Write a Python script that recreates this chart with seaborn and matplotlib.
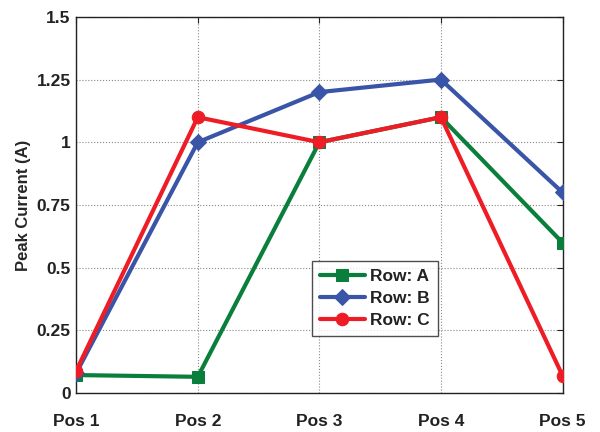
import matplotlib
matplotlib.use("Agg")
import matplotlib.pyplot as plt
import seaborn as sns
import pandas as pd

positions = ["Pos 1", "Pos 2", "Pos 3", "Pos 4", "Pos 5"]
row_a = [0.072, 0.065, 1.0, 1.1, 0.6]
row_b = [0.08, 1.0, 1.2, 1.25, 0.8]
row_c = [0.089, 1.1, 1.0, 1.1, 0.07]
series_names = ["Row: A", "Row: B", "Row: C"]
y_ticks = [0, 0.25, 0.5, 0.75, 1, 1.25, 1.5]
y_tick_labels = ["0", "0.25", "0.5", "0.75", "1", "1.25", "1.5"]

sns.set_style("white")
plt.rcParams["font.family"] = ["Liberation Sans", "DejaVu Sans"]
plt.rcParams["font.weight"] = "bold"

idx = list(range(1, len(positions) + 1))
df = pd.DataFrame({
    "pos": idx * 3,
    "val": row_a + row_b + row_c,
    "row": [series_names[0]] * 5 + [series_names[1]] * 5 + [series_names[2]] * 5,
})

colors = {"Row: A": "#0a7f3c", "Row: B": "#3a55a8", "Row: C": "#ee1c24"}
markers = {"Row: A": "s", "Row: B": "D", "Row: C": "o"}
msizes = {"Row: A": 8.5, "Row: B": 8, "Row: C": 9}

fig = plt.figure(figsize=(6.0, 4.32), dpi=100)
ax = fig.add_axes([0.127, 0.09, 0.8105, 0.871])

for name in series_names:
    sub = df[df["row"] == name]
    sns.lineplot(data=sub, x="pos", y="val", ax=ax, color=colors[name],
                 marker=markers[name], markersize=msizes[name],
                 markeredgecolor=colors[name], linewidth=3.0,
                 label=name, zorder=3)

ax.set_xlim(1, 5)
ax.set_ylim(0, 1.5)
ax.set_xticks(idx)
ax.set_xticklabels(positions, fontsize=12.5, fontweight="bold")
ax.set_yticks(y_ticks)
ax.set_yticklabels(y_tick_labels, fontsize=12.5, fontweight="bold")
ax.set_xlabel("")
ax.set_ylabel("Peak Current (A)", fontsize=12, fontweight="bold", labelpad=4)

ax.grid(True, color="#888888", linestyle=":", linewidth=0.8)
for s in ax.spines.values():
    s.set_color("#222222")
    s.set_linewidth(1.0)
    s.set_visible(True)
ax.tick_params(axis="both", direction="in", length=4, width=0.8,
               top=True, right=True, colors="#222222")
ax.tick_params(axis="x", pad=15, labelcolor="#222222")
ax.tick_params(axis="y", pad=4, labelcolor="#222222")

leg = ax.legend(loc="upper left", bbox_to_anchor=(0.485, 0.351),
                fontsize=12.5, frameon=True, fancybox=False,
                edgecolor="#222222", handlelength=2.6, borderpad=0.45,
                labelspacing=0.4, handletextpad=0.3, borderaxespad=0)
leg.get_frame().set_linewidth(1.0)
for t in leg.get_texts():
    t.set_fontweight("bold")
    t.set_color("#222222")

fig.savefig("out.png", dpi=100)
